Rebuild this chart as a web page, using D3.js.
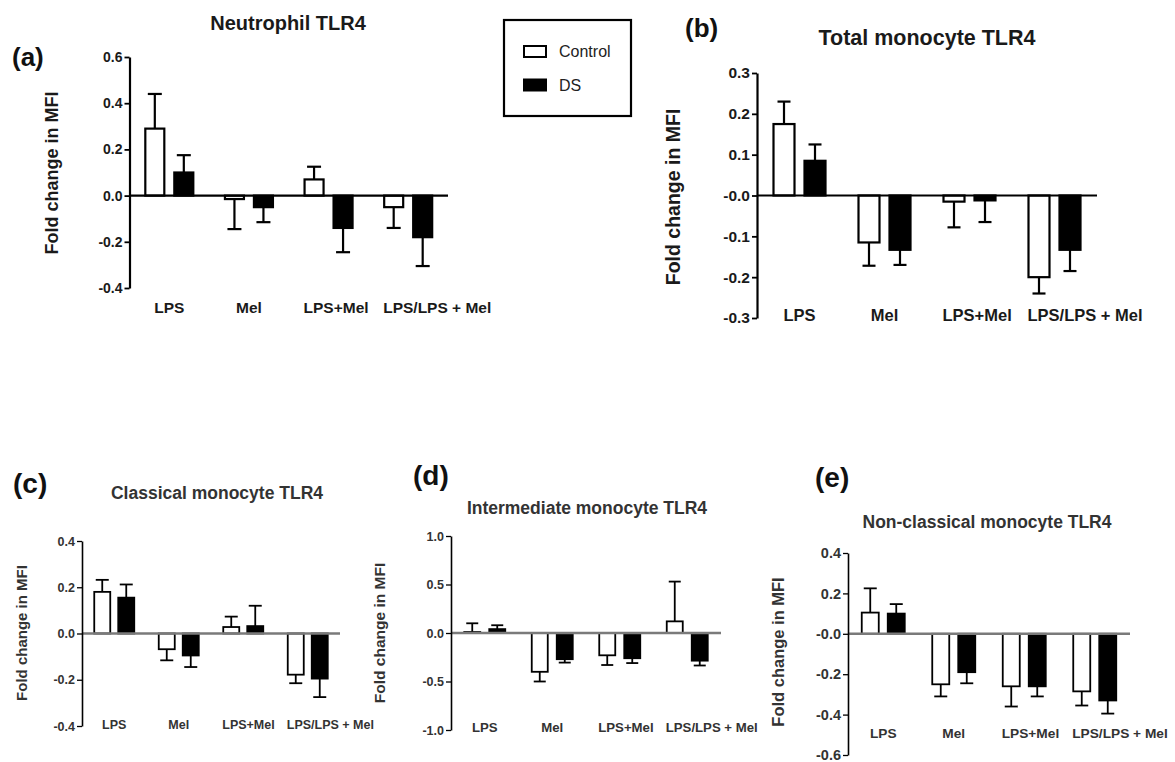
<html>
<meta charset="utf-8" />
<head>
<title>TLR4 fold change</title>
<style>
body { margin: 0; background: #fff; }
svg { display: block; }
svg text { font-family: "Liberation Sans", Arial, sans-serif; }
</style>
<script src="https://d3js.org/d3.v7.min.js" charset="utf-8"></script>
</head>
<body>
<svg class="chart" width="1175" height="762"></svg>

<script>
/********
 * Data *
 ********/

var categories = ["LPS", "Mel", "LPS+Mel", "LPS/LPS + Mel"];
var seriesNames = ["Control", "DS"];
var yLabel = "Fold change in MFI";

// (a) Neutrophil TLR4
var neutroControl    = [0.29, -0.015, 0.07, -0.05];
var neutroControlSem = [0.15, 0.13, 0.055, 0.09];
var neutroDS         = [0.10, -0.05, -0.14, -0.18];
var neutroDSSem      = [0.075, 0.065, 0.105, 0.125];
var neutroTicks      = [0.6, 0.4, 0.2, 0, -0.2, -0.4];
var neutroTickLabels = ["0.6", "0.4", "0.2", "0.0", "-0.2", "-0.4"];

// (b) Total monocyte TLR4
var totalControl    = [0.175, -0.115, -0.015, -0.2];
var totalControlSem = [0.055, 0.057, 0.063, 0.04];
var totalDS         = [0.085, -0.133, -0.012, -0.133];
var totalDSSem      = [0.04, 0.037, 0.053, 0.052];
var totalTicks      = [0.3, 0.2, 0.1, 0, -0.1, -0.2, -0.3];
var totalTickLabels = ["0.3", "0.2", "0.1", "-0.0", "-0.1", "-0.2", "-0.3"];

// (c) Classical monocyte TLR4
var classControl    = [0.18, -0.068, 0.028, -0.178];
var classControlSem = [0.052, 0.048, 0.045, 0.037];
var classDS         = [0.155, -0.095, 0.032, -0.195];
var classDSSem      = [0.057, 0.05, 0.088, 0.08];
var classTicks      = [0.4, 0.2, 0, -0.2, -0.4];
var classTickLabels = ["0.4", "0.2", "0.0", "-0.2", "-0.4"];

// (d) Intermediate monocyte TLR4
var interControl    = [0.01, -0.4, -0.23, 0.12];
var interControlSem = [0.09, 0.1, 0.1, 0.41];
var interDS         = [0.04, -0.27, -0.26, -0.285];
var interDSSem      = [0.04, 0.035, 0.05, 0.05];
var interTicks      = [1, 0.5, 0, -0.5, -1];
var interTickLabels = ["1.0", "0.5", "0.0", "-0.5", "-1.0"];

// (e) Non-classical monocyte TLR4
var nonclassControl    = [0.105, -0.25, -0.26, -0.285];
var nonclassControlSem = [0.12, 0.06, 0.1, 0.07];
var nonclassDS         = [0.10, -0.19, -0.26, -0.33];
var nonclassDSSem      = [0.047, 0.055, 0.05, 0.065];
var nonclassTicks      = [0.4, 0.2, 0, -0.2, -0.4, -0.6];
var nonclassTickLabels = ["0.4", "0.2", "-0.0", "-0.2", "-0.4", "-0.6"];

var panelTitles  = ["Neutrophil TLR4", "Total monocyte TLR4", "Classical monocyte TLR4",
                    "Intermediate monocyte TLR4", "Non-classical monocyte TLR4"];
var panelLetters = ["(a)", "(b)", "(c)", "(d)", "(e)"];

/**********
 * Layout *
 **********/

var panels = [
  { control: neutroControl, controlSem: neutroControlSem, ds: neutroDS, dsSem: neutroDSSem,
    ticks: neutroTicks, tickLabels: neutroTickLabels,
    axisX: 129.5, zeroEnd: 448, yTop: 57, yBottom: 288, barW: 21, gap: 8, cap: 14,
    tickFont: 14, catFont: 15.5, catY: 308,
    title: [288, 23, 20], letter: [12, 57, 26], ylab: [52, 173, 18], light: false },
  { control: totalControl, controlSem: totalControlSem, ds: totalDS, dsSem: totalDSSem,
    ticks: totalTicks, tickLabels: totalTickLabels,
    axisX: 757, zeroEnd: 1097, yTop: 73, yBottom: 318, barW: 23, gap: 8, cap: 13,
    tickFont: 15.5, catFont: 16.5, catY: 315,
    title: [927, 37, 21.5], letter: [685, 28, 26], ylab: [673, 197, 19.5], light: false },
  { control: classControl, controlSem: classControlSem, ds: classDS, dsSem: classDSSem,
    ticks: classTicks, tickLabels: classTickLabels,
    axisX: 82, zeroEnd: 340, yTop: 541, yBottom: 726, barW: 18, gap: 6, cap: 13,
    tickFont: 12.5, catFont: 12.5, catY: 725,
    title: [217, 493, 17.5], letter: [13, 483, 28], ylab: [22, 633, 15], light: true },
  { control: interControl, controlSem: interControlSem, ds: interDS, dsSem: interDSSem,
    ticks: interTicks, tickLabels: interTickLabels,
    axisX: 451, zeroEnd: 721, yTop: 536, yBottom: 730, barW: 18, gap: 7, cap: 12,
    tickFont: 12.5, catFont: 13.2, catY: 727,
    title: [587, 508, 17.5], letter: [413, 475, 28], ylab: [380, 633, 15.5], light: true },
  { control: nonclassControl, controlSem: nonclassControlSem, ds: nonclassDS, dsSem: nonclassDSSem,
    ticks: nonclassTicks, tickLabels: nonclassTickLabels,
    axisX: 848, zeroEnd: 1130, yTop: 553, yBottom: 755, barW: 19, gap: 7, cap: 13,
    tickFont: 14.5, catFont: 13.7, catY: 733,
    title: [987, 522, 17.5], letter: [815, 477, 28], ylab: [778, 652, 16.5], light: true }
];

var fillColor = d3.scaleOrdinal().domain(seriesNames).range(["#fff", "#000"]);

var svg = d3.select(".chart");
svg.append("rect").attr("width", 1175).attr("height", 762).attr("fill", "#fff");

/**************
 * Make Panel *
 **************/

function makePanel(p, i) {
  var g = svg.append("g").attr("class", "panel");
  var textColor = p.light ? "#333" : "#1a1a1a";

  var y = d3.scaleLinear()
      .domain([d3.min(p.ticks), d3.max(p.ticks)])
      .range([p.yBottom, p.yTop]);

  var x = d3.scaleBand()
      .domain(categories)
      .range([p.axisX, p.zeroEnd]);

  var inner = d3.scaleBand()
      .domain(seriesNames)
      .range([0, 2 * p.barW + p.gap])
      .paddingInner(p.gap / (p.barW + p.gap));

  var rows = [];
  categories.forEach(function(c, k) {
    rows.push({ cat: c, series: "Control", v: p.control[k], sem: p.controlSem[k] });
    rows.push({ cat: c, series: "DS", v: p.ds[k], sem: p.dsSem[k] });
  });

  function barLeft(d) {
    return x(d.cat) + (x.bandwidth() - (2 * p.barW + p.gap)) / 2 + inner(d.series);
  }

  // error bars (drawn first, bars sit over them)
  var err = g.selectAll(".err").data(rows).enter().append("g").attr("class", "err")
      .attr("stroke", "#000").attr("stroke-width", p.light ? 1.8 : 2.2);
  err.append("line")
      .attr("x1", function(d) { return barLeft(d) + p.barW / 2; })
      .attr("x2", function(d) { return barLeft(d) + p.barW / 2; })
      .attr("y1", function(d) { return y(d.v); })
      .attr("y2", function(d) { return y(d.v >= 0 ? d.v + d.sem : d.v - d.sem); });
  err.append("line")
      .attr("x1", function(d) { return barLeft(d) + p.barW / 2 - p.cap / 2; })
      .attr("x2", function(d) { return barLeft(d) + p.barW / 2 + p.cap / 2; })
      .attr("y1", function(d) { return y(d.v >= 0 ? d.v + d.sem : d.v - d.sem); })
      .attr("y2", function(d) { return y(d.v >= 0 ? d.v + d.sem : d.v - d.sem); });

  // bars
  g.selectAll(".bar").data(rows).enter().append("rect")
      .attr("class", "bar")
      .attr("x", function(d) { return barLeft(d) + 1; })
      .attr("width", p.barW - 2)
      .attr("y", function(d) { return Math.min(y(d.v), y(0)); })
      .attr("height", function(d) { return Math.abs(y(d.v) - y(0)); })
      .attr("fill", function(d) { return fillColor(d.series); })
      .attr("stroke", "#000")
      .attr("stroke-width", p.light ? 1.8 : 2.2);

  // zero line
  g.append("line")
      .attr("x1", p.axisX).attr("x2", p.zeroEnd)
      .attr("y1", y(0)).attr("y2", y(0))
      .attr("stroke", p.light ? "#7a7a7a" : "#000")
      .attr("stroke-width", p.light ? 2.5 : 2.2);

  // y axis
  var yAxis = d3.axisLeft(y)
      .tickValues(p.ticks)
      .tickSizeInner(5)
      .tickSizeOuter(0)
      .tickPadding(2)
      .tickFormat(function(d, k) { return p.tickLabels[k]; });

  var ax = g.append("g")
      .attr("transform", "translate(" + p.axisX + ",0)")
      .call(yAxis);
  ax.select(".domain").attr("stroke", "#000").attr("stroke-width", p.light ? 1.6 : 2.2);
  ax.selectAll(".tick line").attr("stroke", "#000").attr("stroke-width", p.light ? 1.3 : 1.8);
  ax.selectAll(".tick text")
      .attr("fill", textColor)
      .style("font-size", p.tickFont + "px")
      .style("font-weight", "bold")
      .style("font-family", "'Liberation Sans', Arial, sans-serif");

  // category labels
  g.selectAll(".cat").data(categories).enter().append("text")
      .attr("class", "cat")
      .attr("y", p.catY)
      .attr("dy", "0.35em")
      .attr("text-anchor", "middle")
      .attr("fill", textColor)
      .style("font-size", p.catFont + "px")
      .style("font-weight", "bold")
      .text(function(d) { return d; })
      .attr("x", function(d) {
        var c = x(d) + x.bandwidth() / 2;
        var left = c - (2 * p.barW + p.gap) / 2;
        var w = this.getComputedTextLength();
        return Math.max(c, left + w / 2);
      });

  // title
  g.append("text")
      .attr("x", p.title[0]).attr("y", p.title[1]).attr("dy", "0.35em")
      .attr("text-anchor", "middle")
      .attr("fill", textColor)
      .style("font-size", p.title[2] + "px")
      .style("font-weight", "bold")
      .text(panelTitles[i]);

  // panel letter
  g.append("text")
      .attr("x", p.letter[0]).attr("y", p.letter[1]).attr("dy", "0.35em")
      .attr("fill", "#111")
      .style("font-size", p.letter[2] + "px")
      .style("font-weight", "bold")
      .text(panelLetters[i]);

  // y axis label
  g.append("text")
      .attr("transform", "translate(" + p.ylab[0] + "," + p.ylab[1] + ") rotate(-90)")
      .attr("dy", "0.35em")
      .attr("text-anchor", "middle")
      .attr("fill", textColor)
      .style("font-size", p.ylab[2] + "px")
      .style("font-weight", "bold")
      .text(yLabel);
}

panels.forEach(makePanel);

/**********
 * Legend *
 **********/

function makeLegend() {
  var group = svg.append("g").attr("class", "legend-group");

  group.append("rect")
      .attr("x", 504).attr("y", 20)
      .attr("width", 127).attr("height", 96)
      .attr("fill", "#fff")
      .attr("stroke", "#000")
      .attr("stroke-width", 2.2);

  var legend = group.selectAll(".legend")
      .data(seriesNames)
    .enter().append("g")
      .attr("class", "legend")
      .attr("transform", function(d, i) { return "translate(0," + i * 33.5 + ")"; });

  legend.append("rect")
      .attr("x", 524).attr("y", 46)
      .attr("width", 22).attr("height", 11)
      .attr("fill", fillColor)
      .attr("stroke", "#000")
      .attr("stroke-width", 2);

  legend.append("text")
      .attr("x", 559).attr("y", 51.5)
      .attr("dy", "0.35em")
      .attr("fill", "#222")
      .style("font-size", "16px")
      .text(function(d) { return d; });
}

makeLegend();
</script>
</body>
</html>
